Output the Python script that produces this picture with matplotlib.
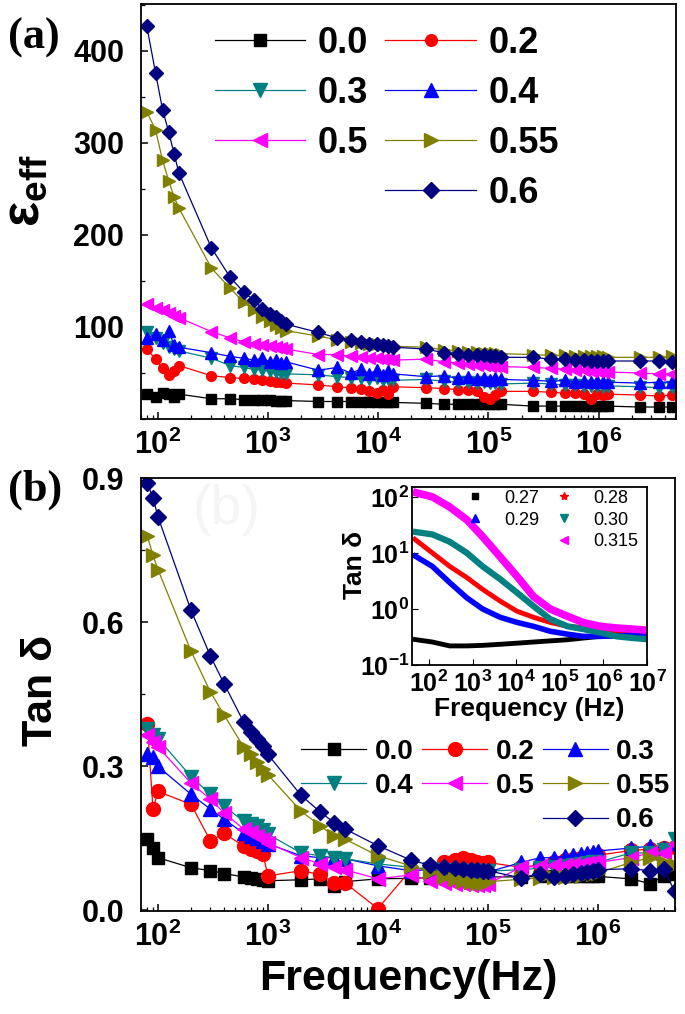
import matplotlib
matplotlib.use("Agg")
import matplotlib.pyplot as plt
from matplotlib.lines import Line2D
from matplotlib.ticker import LogLocator, NullFormatter, MultipleLocator, FormatStrFormatter, FixedLocator
import numpy as np

plt.rcParams['font.family'] = ['Liberation Sans', 'DejaVu Sans']
plt.rcParams['font.weight'] = 'bold'
plt.rcParams['axes.labelweight'] = 'bold'
plt.rcParams['mathtext.fontset'] = 'custom'
plt.rcParams['mathtext.rm'] = 'Liberation Sans:bold'
plt.rcParams['mathtext.bf'] = 'Liberation Sans:bold'
plt.rcParams['mathtext.it'] = 'Liberation Sans:bold'
plt.rcParams['mathtext.sf'] = 'Liberation Sans:bold'
plt.rcParams['axes.linewidth'] = 1.3

# ---- panel (a): effective permittivity ----
freq_a = [79, 95, 110, 125, 140, 155, 305, 452, 598, 743, 885, 1030, 1170, 1315,
          1460, 2860, 4240, 5620, 6980, 8310, 9670, 11000, 12300,
          13700, 26900, 39900, 52700, 65500, 78000, 90800, 103000, 116000,
          129000, 253000, 374000, 495000, 615000, 733000, 853000, 971000, 1089000,
          1207000, 2371000, 3514000, 4649000]
labels_a = ['0.0', '0.2', '0.3', '0.4', '0.5', '0.55', '0.6']
eps_00 = [27, 24, 28, 27, 24, 27, 22, 22, 21, 21, 21, 21, 20, 20, 20, 19, 19, 19, 18, 18,
          18, 18, 18, 18, 17, 16, 16, 16, 16, 16, 16, 16, 16, 14, 14, 14, 14, 14, 14, 14,
          14, 14, 13, 13, 13]
eps_02 = [76, 65, 55, 48, 52, 58, 47, 45, 44, 43, 42, 41, 40, 40, 39, 37, 35, 34, 33, 30,
          28, 32, 27, 35, 34, 33, 32, 31, 30, 24, 22, 26, 30, 30, 29, 28, 28, 27, 22, 27,
          26, 27, 26, 25, 26]
eps_03 = [94, 88, 83, 78, 76, 74, 66, 58, 56, 54, 53, 52, 51, 50, 49, 48, 46, 45, 44, 43,
          44, 42, 43, 42, 43, 41, 40, 40, 39, 40, 39, 39, 38, 39, 38, 37, 37, 36, 36, 36,
          35, 36, 35, 34, 35]
eps_04 = [88, 92, 86, 96, 80, 78, 72, 68, 66, 64, 66, 62, 64, 61, 62, 53, 56, 50, 54, 49,
          53, 48, 52, 49, 46, 47, 44, 46, 43, 45, 42, 44, 43, 42, 41, 42, 40, 41, 40, 41,
          40, 40, 39, 40, 40]
eps_05 = [125, 121, 118, 115, 112, 110, 95, 88, 84, 82, 80, 79, 78, 77, 76, 70, 70, 68, 67,
          66, 66, 65, 65, 64, 65, 62, 61, 60, 59, 59, 58, 58, 57, 56, 55, 54, 53, 53, 52,
          52, 51, 51, 50, 49, 49]
eps_055 = [334, 314, 281, 259, 241, 229, 164, 142, 127, 118, 111, 106, 102, 99, 96, 90, 86,
           84, 83, 82, 81, 80, 80, 79, 78, 75, 74, 73, 73, 72, 72, 72, 71, 70, 69, 69, 68,
           68, 68, 68, 68, 67, 67, 67, 68]
eps_06 = [427, 376, 336, 312, 288, 267, 186, 154, 138, 129, 120, 114, 111, 107, 103, 94, 88,
          86, 84, 82, 81, 80, 79, 78, 76, 72, 71, 70, 69, 69, 68, 68, 67, 67, 65, 65, 64,
          64, 63, 63, 63, 63, 63, 63, 62]

# ---- panel (b): loss tangent ----
freq_b = [80, 90, 100, 200, 300, 400, 600, 700, 800, 900, 1000, 2000, 3000, 4000, 5000,
          1e4, 2e4, 3e4, 4e4, 5e4, 6e4, 7e4, 8e4, 9e4, 1e5, 2e5, 3e5, 4e5, 5e5, 6e5, 7e5,
          8e5, 9e5, 1e6, 2e6, 3e6, 4e6, 5e6]
labels_b = ['0.0', '0.2', '0.3', '0.4', '0.5', '0.55', '0.6']
tan_00 = [0.149, 0.13, 0.11, 0.089, 0.083, 0.077, 0.070, 0.068, 0.066, 0.064, 0.062, 0.064,
          0.066, 0.05, 0.06, 0.066, 0.067, 0.068, 0.068, 0.068, 0.069, 0.069, 0.069, 0.07,
          0.07, 0.07, 0.071, 0.071, 0.071, 0.071, 0.071, 0.071, 0.071, 0.071, 0.066, 0.056,
          0.072, 0.075]
tan_02 = [0.389, 0.211, 0.248, 0.221, 0.145, 0.161, 0.134, 0.128, 0.124, 0.118, 0.072, 0.083,
          0.075, 0.058, 0.058, 0.004, 0.085, 0.09, 0.10, 0.105, 0.11, 0.105, 0.1, 0.098, 0.1,
          0.09, 0.095, 0.1, 0.105, 0.108, 0.11, 0.112, 0.113, 0.115, 0.125, 0.128, 0.13, 0.133]
tan_03 = [0.327, 0.32, 0.30, 0.242, 0.211, 0.19, 0.161, 0.155, 0.15, 0.145, 0.139, 0.114,
          0.11, 0.11, 0.108, 0.093, 0.083, 0.085, 0.08, 0.082, 0.079, 0.08, 0.078, 0.08, 0.08,
          0.10, 0.11, 0.11, 0.113, 0.115, 0.118, 0.12, 0.122, 0.124, 0.13, 0.134, 0.13, 0.14]
tan_04 = [0.379, 0.366, 0.358, 0.279, 0.242, 0.217, 0.186, 0.18, 0.175, 0.168, 0.159, 0.12,
          0.114, 0.11, 0.108, 0.097, 0.09, 0.086, 0.084, 0.083, 0.082, 0.082, 0.082, 0.082,
          0.082, 0.085, 0.088, 0.09, 0.092, 0.094, 0.096, 0.098, 0.1, 0.1, 0.12, 0.12, 0.125,
          0.148]
tan_05 = [0.366, 0.352, 0.341, 0.265, 0.232, 0.203, 0.17, 0.163, 0.156, 0.148, 0.141, 0.11,
          0.097, 0.09, 0.085, 0.066, 0.074, 0.062, 0.058, 0.056, 0.055, 0.054, 0.054, 0.053,
          0.055, 0.09, 0.092, 0.094, 0.095, 0.096, 0.097, 0.098, 0.1, 0.1, 0.11, 0.12, 0.12,
          0.138]
tan_055 = [0.78, 0.74, 0.71, 0.54, 0.455, 0.407, 0.341, 0.325, 0.31, 0.295, 0.283, 0.207,
           0.176, 0.155, 0.149, 0.114, 0.093, 0.08, 0.07, 0.065, 0.062, 0.06, 0.058, 0.058,
           0.06, 0.065, 0.068, 0.07, 0.07, 0.072, 0.072, 0.075, 0.075, 0.078, 0.10, 0.11,
           0.10, 0.095]
tan_06 = [0.89, 0.86, 0.82, 0.625, 0.53, 0.472, 0.393, 0.372, 0.357, 0.342, 0.325, 0.24,
          0.205, 0.183, 0.17, 0.135, 0.105, 0.094, 0.09, 0.088, 0.086, 0.085, 0.084, 0.083,
          0.083, 0.068, 0.077, 0.07, 0.072, 0.075, 0.078, 0.08, 0.082, 0.085, 0.087, 0.083,
          0.087, 0.04]

# ---- inset ----
freq_in = [43, 120, 300, 740, 1700, 4300, 10500, 25000, 60000, 150000, 340000, 830000,
           2.0e6, 4.8e6, 1e7]
labels_in = ['0.27', '0.28', '0.29', '0.30', '0.315']
in_027 = [0.288, 0.257, 0.219, 0.219, 0.224, 0.234, 0.245, 0.257, 0.269, 0.282, 0.302,
          0.324, 0.331, 0.339, 0.347]
in_028 = [18.6, 10, 5.75, 3.63, 2.24, 1.38, 0.91, 0.71, 0.575, 0.49, 0.468, 0.437, 0.398,
          0.389, 0.38]
in_029 = [9.3, 5.75, 2.95, 1.58, 1.0, 0.71, 0.575, 0.49, 0.4, 0.355, 0.324, 0.324, 0.331,
          0.339, 0.347]
in_030 = [24, 21.4, 15.8, 10, 5.75, 3.4, 1.95, 1.12, 0.66, 0.49, 0.437, 0.38, 0.324, 0.302,
          0.288]
in_0315 = [123, 100, 66, 39, 19.5, 8.5, 3.8, 1.66, 1.0, 0.74, 0.575, 0.49, 0.457, 0.437,
           0.417]

teal = '#008080'
olive = '#808000'
navy = '#000080'

fig = plt.figure(figsize=(6.85, 10.14), dpi=100)


def style_log_x(ax):
    ax.set_xscale('log')
    ax.set_xlim(70, 5.05e6)
    ax.xaxis.set_major_locator(LogLocator(base=10, numticks=12))
    ax.xaxis.set_minor_locator(LogLocator(base=10, subs=np.arange(2, 10) * 1.0, numticks=40))
    ax.xaxis.set_minor_formatter(NullFormatter())
    ax.tick_params(which='both', direction='in', top=False, right=False)
    ax.tick_params(which='major', length=5, width=1.1)
    ax.tick_params(which='minor', length=3, width=0.9)
    ax.tick_params(axis='x', labelsize=22, pad=8)
    ax.tick_params(axis='y', labelsize=22, pad=12)


# (a)
ax1 = fig.add_axes([0.2058, 0.5868, 0.7810, 0.4093])
style_a = [('black', 's', 7), ('red', 'o', 7), (teal, 'v', 8), ('blue', '^', 8),
           ('magenta', '<', 8), (olive, '>', 8), (navy, 'D', 7)]
series_a = [eps_00, eps_02, eps_03, eps_04, eps_05, eps_055, eps_06]
h_a = []
for lab, y, (c, m, ms) in zip(labels_a, series_a, style_a):
    ln, = ax1.plot(freq_a, y, color=c, marker=m, ms=ms, mec=c, mfc=c, lw=0.9, label=lab)
    h_a.append(ln)
style_log_x(ax1)
ax1.set_ylim(0, 451)
ax1.yaxis.set_major_locator(FixedLocator([100, 200, 300, 400]))
ax1.yaxis.set_minor_locator(MultipleLocator(50))
ax1.set_ylabel('ε$_{\\mathbf{eff}}$', fontsize=38)
ax1.yaxis.set_label_coords(-0.17, 0.55)
blank = Line2D([], [], linestyle='none', marker='none')
ax1.legend([h_a[0], h_a[2], h_a[4], blank, h_a[1], h_a[3], h_a[5], h_a[6]],
           ['0.0', '0.3', '0.5', '', '0.2', '0.4', '0.55', '0.6'],
           ncol=2, loc='upper left', bbox_to_anchor=(0.138, 0.948), frameon=False,
           fontsize=26, handlelength=2.5, handletextpad=0.36, columnspacing=0.47,
           labelspacing=0.42, borderpad=0, borderaxespad=0, numpoints=1, markerscale=1.2)

# (b)
ax2 = fig.add_axes([0.2058, 0.1016, 0.7796, 0.4270])
style_b = [('black', 's', 9), ('red', 'o', 10), ('blue', '^', 10.5), (teal, 'v', 10.5),
           ('magenta', '<', 10.5), (olive, '>', 10.5), (navy, 'D', 8.5)]
series_b = [tan_00, tan_02, tan_03, tan_04, tan_05, tan_055, tan_06]
h_b = []
for lab, y, (c, m, ms) in zip(labels_b, series_b, style_b):
    ln, = ax2.plot(freq_b, y, color=c, marker=m, ms=ms, mec=c, mfc=c, lw=0.9, label=lab)
    h_b.append(ln)
style_log_x(ax2)
ax2.set_ylim(-0.001, 0.901)
ax2.yaxis.set_major_locator(FixedLocator([0.0, 0.3, 0.6, 0.9]))
ax2.yaxis.set_minor_locator(MultipleLocator(0.15))
ax2.yaxis.set_major_formatter(FormatStrFormatter('%.1f'))
ax2.set_ylabel('Tan δ', fontsize=31)
ax2.yaxis.set_label_coords(-0.15, 0.51)
ax2.set_xlabel('Frequency(Hz)', fontsize=31, labelpad=4)
ax2.legend([h_b[0], h_b[3], blank, h_b[1], h_b[4], blank, h_b[2], h_b[5], h_b[6]],
           ['0.0', '0.4', '', '0.2', '0.5', '', '0.3', '0.55', '0.6'],
           ncol=3, loc='upper left', bbox_to_anchor=(0.30, 0.398), frameon=False,
           fontsize=20, handlelength=2.35, handletextpad=0.3, columnspacing=0.3,
           labelspacing=0.3, borderpad=0, borderaxespad=0, numpoints=1)

# faint ghost label in panel (b)
fig.text(0.33, 0.497, '(b)', fontsize=40, fontweight='normal', color='#f5f5f5',
         ha='center', va='center')

# inset
ax3 = fig.add_axes([0.6015, 0.3442, 0.3431, 0.1755])
style_in = [('black', 's', 4), ('red', '*', 6), ('blue', '^', 6), (teal, 'v', 6),
            ('magenta', '<', 6)]
series_in = [in_027, in_028, in_029, in_030, in_0315]
widths_in = [3.5, 3.5, 4, 4.5, 5.5]
h_in = []
for lab, y, (c, m, ms), w in zip(labels_in, series_in, style_in, widths_in):
    ax3.plot(freq_in, y, color=c, lw=w, solid_capstyle='butt')
    h_in.append(Line2D([], [], color=c, marker=m, ms=ms, linestyle='none'))
ax3.set_xscale('log')
ax3.set_yscale('log')
ax3.set_xlim(41, 1e7)
ax3.set_ylim(0.1, 150)
ax3.xaxis.set_major_locator(FixedLocator([1e2, 1e3, 1e4, 1e5, 1e6, 1e7]))
ax3.yaxis.set_major_locator(FixedLocator([0.1, 1, 10, 100]))
ax3.xaxis.set_minor_locator(FixedLocator([]))
ax3.yaxis.set_minor_locator(FixedLocator([]))
ax3.tick_params(which='both', direction='in', top=False, right=False, length=4,
                labelsize=18)
ax3.tick_params(axis='x', pad=4)
ax3.tick_params(axis='y', pad=2)
ax3.set_xlabel('Frequency (Hz)', fontsize=19, labelpad=0)
ax3.set_ylabel('Tan δ', fontsize=19)
ax3.yaxis.set_label_coords(-0.19, 0.56)
ax3.legend([h_in[0], h_in[2], blank, h_in[1], h_in[3], h_in[4]],
           ['0.27', '0.29', '', '0.28', '0.30', '0.315'],
           ncol=2, loc='upper left', bbox_to_anchor=(0.238, 0.985), frameon=False,
           prop={'size': 13, 'weight': 'normal'}, handlelength=0.8, handletextpad=1.2,
           columnspacing=1.0, labelspacing=0.27, borderpad=0, borderaxespad=0,
           numpoints=1)

fig.text(0.012, 0.963, '(a)', family='Liberation Serif', fontweight='bold', fontsize=32,
         va='center')
fig.text(0.012, 0.517, '(b)', family='Liberation Serif', fontweight='bold', fontsize=32,
         va='center')

fig.savefig('out.png', dpi=100)
